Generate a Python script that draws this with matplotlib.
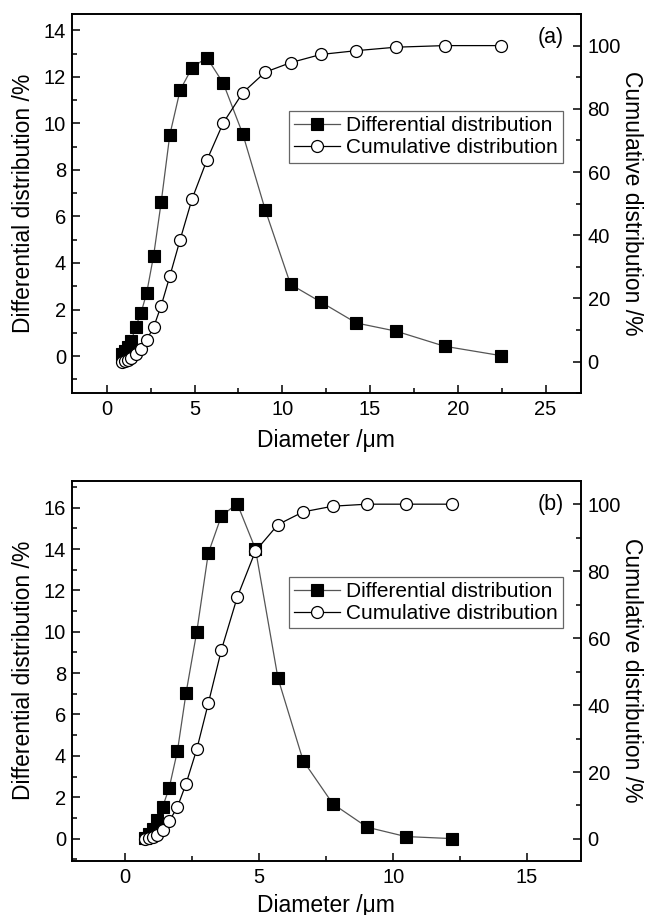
import matplotlib
matplotlib.use("Agg")
import matplotlib.pyplot as plt
from matplotlib.ticker import MultipleLocator

plt.rcParams['font.family'] = ['Liberation Sans', 'DejaVu Sans']

# ---- panel (a) data ----
diam_a = [0.87, 1.02, 1.19, 1.40, 1.64, 1.95, 2.27, 2.67, 3.10, 3.59, 4.18,
          4.86, 5.70, 6.64, 7.75, 9.03, 10.47, 12.2, 14.22, 16.48, 19.25, 22.44]
diff_a = [0.07, 0.20, 0.39, 0.65, 1.25, 1.85, 2.70, 4.32, 6.61, 9.50, 11.43,
          12.39, 12.83, 11.72, 9.54, 6.28, 3.08, 2.32, 1.42, 1.07, 0.42, 0.02]
cum_a = [0.0, 0.2, 0.5, 1.2, 2.3, 3.9, 6.9, 10.9, 17.7, 27.0, 38.6,
         51.5, 63.7, 75.6, 85.1, 91.6, 94.6, 97.2, 98.4, 99.5, 100.0, 100.0]

# ---- panel (b) data ----
diam_b = [0.75, 0.87, 1.02, 1.19, 1.40, 1.64, 1.95, 2.27, 2.67, 3.10, 3.59,
          4.18, 4.86, 5.70, 6.64, 7.75, 9.03, 10.47, 12.2]
diff_b = [0.02, 0.20, 0.45, 0.90, 1.55, 2.45, 4.25, 7.04, 10.0, 13.8, 15.6,
          16.19, 14.0, 7.76, 3.77, 1.68, 0.55, 0.10, 0.0]
cum_b = [0.0, 0.2, 0.6, 1.2, 2.6, 5.3, 9.6, 16.5, 26.8, 40.5, 56.5,
         72.2, 86.0, 93.9, 97.7, 99.4, 100.0, 100.0, 100.0]

xlabel = "Diameter /\u03bcm"
ylabel_l = "Differential distribution /%"
ylabel_r = "Cumulative distribution /%"
leg_labels = ["Differential distribution", "Cumulative distribution"]

fig = plt.figure(figsize=(6.48, 9.15), dpi=100)

panels = [
    dict(rect=[0.1106, 0.5702, 0.7855, 0.4145], x=diam_a, d=diff_a, c=cum_a,
         xlim=(-2, 27), yl=(-1.6, 14.7), yr=(-10, 110), tag="(a)",
         leg_top=0.744, xpad=7),
    dict(rect=[0.1106, 0.0593, 0.7855, 0.4153], x=diam_b, d=diff_b, c=cum_b,
         xlim=(-2, 17), yl=(-1.07, 17.3), yr=(-6.5, 107), tag="(b)",
         leg_top=0.747, xpad=5),
]

for p in panels:
    ax = fig.add_axes(p["rect"])
    ax2 = ax.twinx()
    l1, = ax.plot(p["x"], p["d"], color="#555555", lw=0.9, marker="s",
                  ms=8.4, mfc="black", mec="black", mew=0.8)
    l2, = ax2.plot(p["x"], p["c"], color="black", lw=0.9, marker="o",
                   ms=8.6, mfc="white", mec="black", mew=0.9)
    ax.set_xlim(*p["xlim"])
    ax.set_ylim(*p["yl"])
    ax2.set_ylim(*p["yr"])
    ax.xaxis.set_major_locator(MultipleLocator(5))
    ax.xaxis.set_minor_locator(MultipleLocator(2.5))
    ax.yaxis.set_major_locator(MultipleLocator(2))
    ax.yaxis.set_minor_locator(MultipleLocator(1))
    ax2.yaxis.set_major_locator(MultipleLocator(20))
    ax2.yaxis.set_minor_locator(MultipleLocator(10))
    for a in (ax, ax2):
        a.tick_params(which="major", direction="in", length=6, width=1.1,
                      labelsize=14.5)
        a.tick_params(which="minor", direction="in", length=3.3, width=1.1)
        for s in a.spines.values():
            s.set_linewidth(1.2)
    ax.tick_params(axis="x", pad=5)
    ax.tick_params(axis="y", pad=4)
    ax2.tick_params(axis="y", pad=5)
    ax.set_xlabel(xlabel, fontsize=16.5, labelpad=p["xpad"])
    ax.set_ylabel(ylabel_l, fontsize=16.5, labelpad=6)
    ax2.set_ylabel(ylabel_r, fontsize=16.5, rotation=270, labelpad=16)
    ax.text(0.942, 0.938, p["tag"], transform=ax.transAxes, fontsize=15.5,
            ha="center", va="center")
    leg = ax.legend([l1, l2], leg_labels, loc="upper right",
                    bbox_to_anchor=(0.965, p["leg_top"]), fontsize=15,
                    frameon=True, fancybox=False, framealpha=1,
                    edgecolor="#666666", handlelength=2.2, handletextpad=0.3,
                    borderpad=0.25, labelspacing=0.15, borderaxespad=0)
    leg.get_frame().set_linewidth(0.9)

fig.savefig("out.png", dpi=100)
